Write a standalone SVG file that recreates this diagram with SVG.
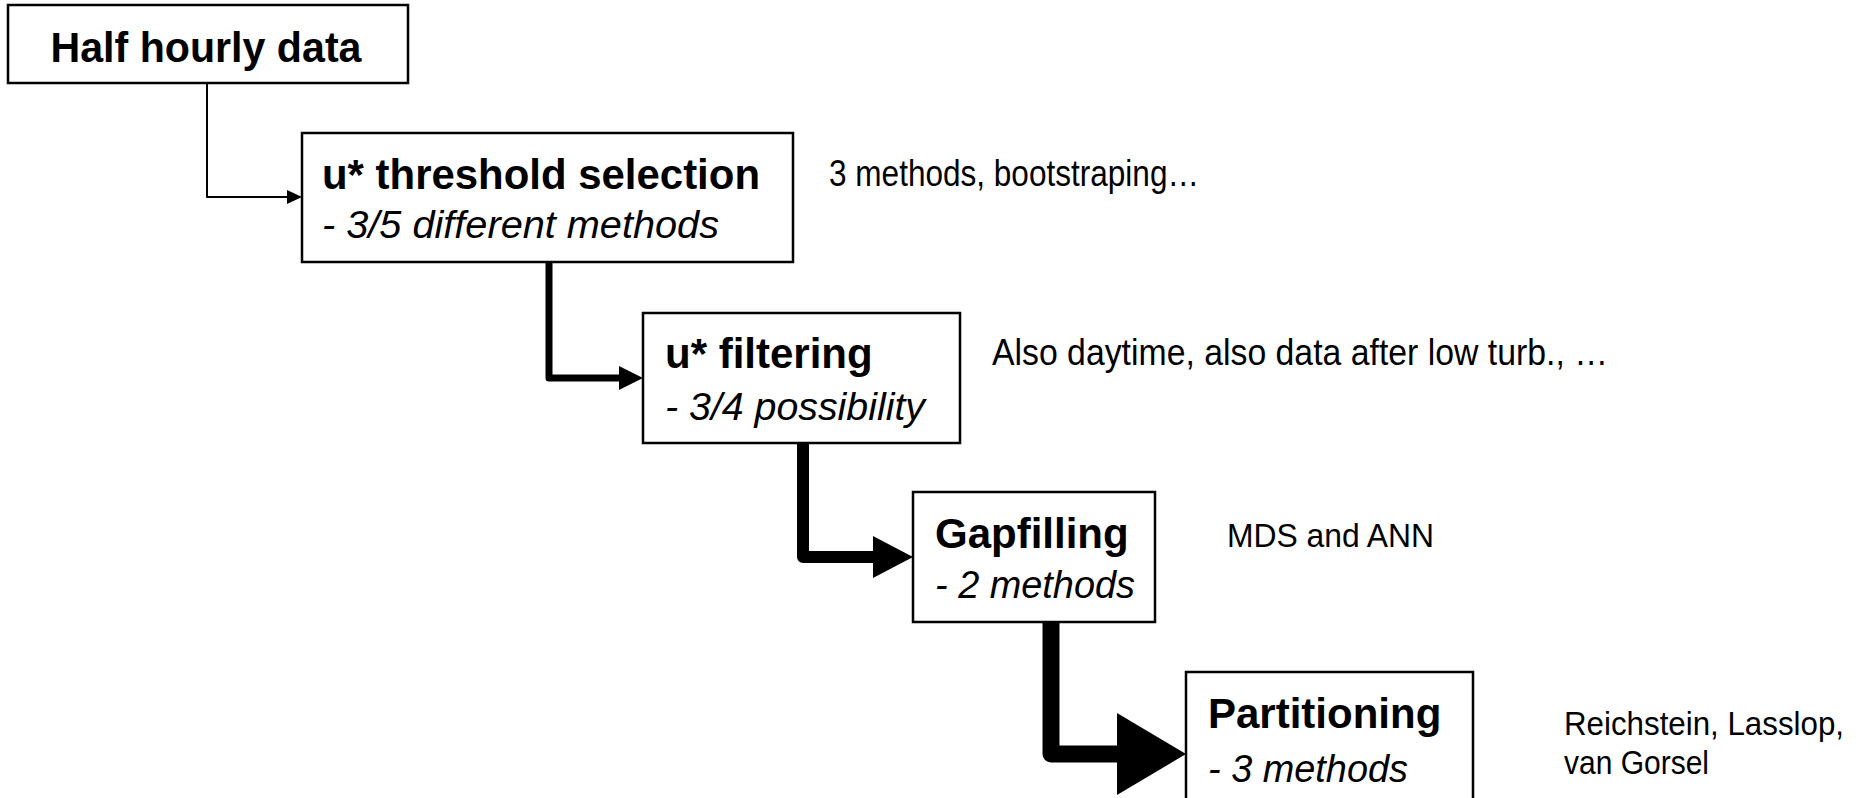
<svg xmlns="http://www.w3.org/2000/svg" width="1872" height="798" viewBox="0 0 1872 798">
<style>
.box{fill:#fff;stroke:#000;stroke-width:2.5}
.t{font-family:"Liberation Sans",Arial,sans-serif;font-weight:bold;font-size:42px;fill:#000}
.s{font-family:"Liberation Sans",Arial,sans-serif;font-style:italic;font-size:39px;fill:#000}
.a{font-family:"Liberation Sans",Arial,sans-serif;font-size:36px;fill:#000}
.b{font-family:"Liberation Sans",Arial,sans-serif;font-size:34px;fill:#000}
.ln{fill:none;stroke:#000;stroke-linejoin:round}
</style>
<rect width="1872" height="798" fill="#fff"/>
<g id="connectors">
<path class="ln" d="M207,83 V197 H289" stroke-width="2"/>
<polygon points="302,197 287,190 287,204"/>
<path class="ln" d="M549,262 V378 H622" stroke-width="7"/>
<polygon points="643,378 619,366 619,390"/>
<path class="ln" d="M803,443 V557 H876" stroke-width="12"/>
<polygon points="913,557 873,536 873,578"/>
<path class="ln" d="M1051,622 V754 H1122" stroke-width="17"/>
<polygon points="1186,754 1117,713 1117,795"/>
</g>
<g id="n1">
<rect class="box" x="8" y="5" width="400" height="78"/>
<text class="t" x="206" y="62" text-anchor="middle" textLength="311" lengthAdjust="spacingAndGlyphs">Half hourly data</text>
</g>
<g id="n2">
<rect class="box" x="302" y="133" width="491" height="129"/>
<text class="t" x="322" y="189" textLength="438" lengthAdjust="spacingAndGlyphs">u* threshold selection</text>
<text class="s" x="322" y="238" textLength="397" lengthAdjust="spacingAndGlyphs">- 3/5 different methods</text>
</g>
<g id="n3">
<rect class="box" x="643" y="313" width="317" height="130"/>
<text class="t" x="665" y="368">u* filtering</text>
<text class="s" x="665" y="420" textLength="260" lengthAdjust="spacingAndGlyphs">- 3/4 possibility</text>
</g>
<g id="n4">
<rect class="box" x="913" y="492" width="242" height="130"/>
<text class="t" x="935" y="548">Gapfilling</text>
<text class="s" x="935" y="598" textLength="200" lengthAdjust="spacingAndGlyphs">- 2 methods</text>
</g>
<g id="n5">
<rect class="box" x="1186" y="672" width="287" height="140"/>
<text class="t" x="1208" y="728">Partitioning</text>
<text class="s" x="1208" y="782" textLength="200" lengthAdjust="spacingAndGlyphs">- 3 methods</text>
</g>
<g id="notes">
<text class="a" x="829" y="186" textLength="370" lengthAdjust="spacingAndGlyphs">3 methods, bootstraping…</text>
<text class="a" x="992" y="365" textLength="616" lengthAdjust="spacingAndGlyphs">Also daytime, also data after low turb., …</text>
<text class="b" x="1227" y="547" textLength="207" lengthAdjust="spacingAndGlyphs">MDS and ANN</text>
<text class="b" x="1564" y="735" textLength="280" lengthAdjust="spacingAndGlyphs">Reichstein, Lasslop,</text>
<text class="b" x="1564" y="774" textLength="145" lengthAdjust="spacingAndGlyphs">van Gorsel</text>
</g>
</svg>
